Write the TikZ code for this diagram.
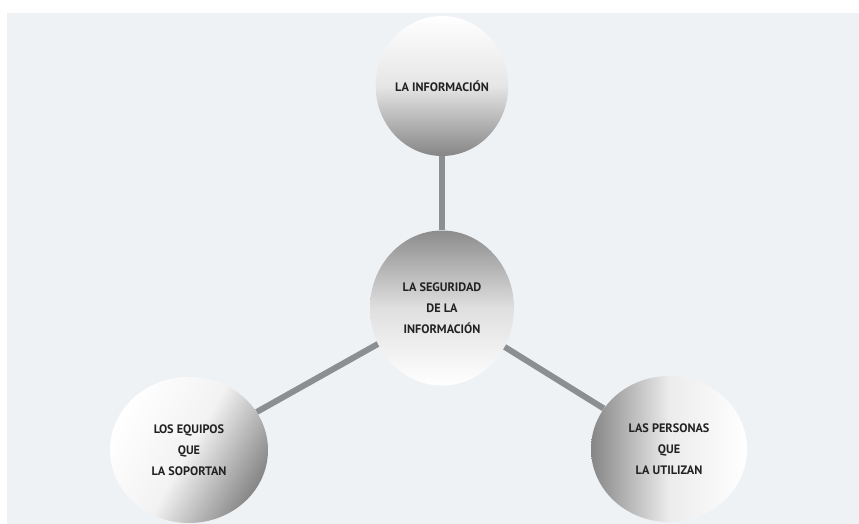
\documentclass[tikz,border=0pt]{standalone}
\usepackage{fontspec}
\setmainfont{PT Sans}
\usetikzlibrary{shapes.geometric,backgrounds}
\definecolor{fondo}{HTML}{EFF2F5}
\definecolor{barra}{HTML}{8C8F92}
\definecolor{texto}{HTML}{222222}
\tikzset{
  esfera/.style={ellipse,inner sep=0pt,text=texto,align=center,
    font=\fontsize{12.3}{21}\selectfont\bfseries},
  enlace/.style={barra,line width=6bp}
}
\begin{document}
\begin{tikzpicture}
        [x=1bp,y=-1bp]
        \useasboundingbox (0,0) rectangle (859,524);

        \node[esfera,minimum width=124bp,minimum height=140bp,
          top color=white,bottom color=gray!95,middle color=gray!20] (info) at (442,86) {LA INFORMACIÓN};
        \node[esfera,minimum width=144bp,minimum height=155bp,
          top color=gray!90,bottom color=white,middle color=gray!25] (seg) at (442,308) {LA SEGURIDAD\\DE LA\\INFORMACIÓN};
        \node[esfera,minimum width=158bp,minimum height=146bp,
          left color=white,right color=gray!95,middle color=gray!10,shading angle=60] (equipos) at (189,450) {LOS EQUIPOS\\QUE\\LA SOPORTAN};
        \node[esfera,minimum width=156bp,minimum height=146bp,
          left color=gray!95,right color=white,middle color=gray!15] (personas) at (669,449) {LAS PERSONAS\\QUE\\LA UTILIZAN};

        % barras entre esferas
        \begin{scope}[on background layer]
        \fill[fondo] (7,13) rectangle (859,524);
        \draw[enlace] (info) -- (seg);
        \draw[enlace] (seg) -- (equipos);
        \draw[enlace] (seg) -- (personas);
        \end{scope}
      \end{tikzpicture}
\end{document}
